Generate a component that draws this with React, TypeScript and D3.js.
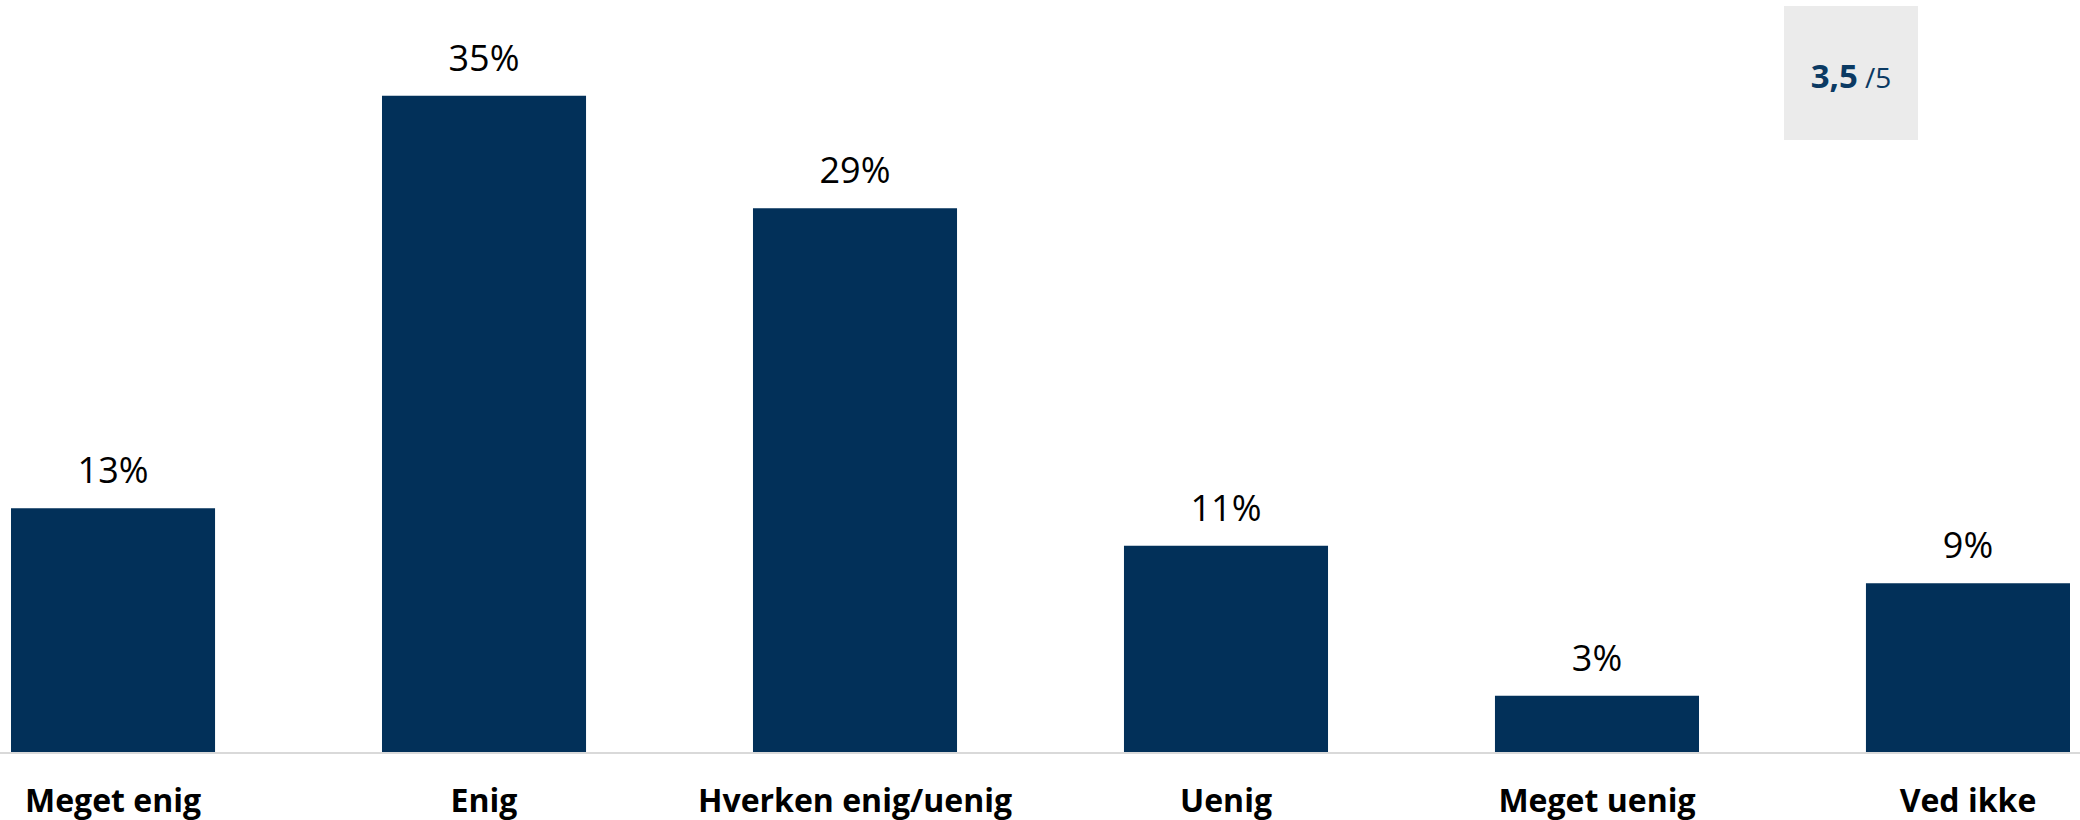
import { useEffect, useRef } from 'react';
import * as d3 from 'd3';

const categories = ['Meget enig', 'Enig', 'Hverken enig/uenig', 'Uenig', 'Meget uenig', 'Ved ikke'];
const values = [13, 35, 29, 11, 3, 9];
const scoreValue = '3,5';
const scoreMax = '/5';

const WIDTH = 2080;
const HEIGHT = 820;
const BAR_COLOR = '#023059';
const FONT = '"Open Sans", "Noto Sans", sans-serif';

export default function App() {
	const svgRef = useRef<SVGSVGElement>(null);

	useEffect(() => {
		if (!svgRef.current) return;
		document.body.style.margin = '0';

		const svg = d3.select(svgRef.current);
		svg.selectAll('*').remove();
		svg.attr('width', WIDTH).attr('height', HEIGHT);

		const xScale = d3.scaleBand<string>().domain(categories).range([11, 2070]).paddingInner(0.45).paddingOuter(0);

		const yScale = d3.scaleLinear().domain([0, 40]).range([752, 2]);

		// Bars
		svg
			.selectAll('.bar')
			.data(values)
			.enter()
			.append('rect')
			.attr('x', (_, i) => xScale(categories[i])!)
			.attr('y', (d) => yScale(d))
			.attr('width', xScale.bandwidth())
			.attr('height', (d) => yScale(0) - yScale(d))
			.attr('fill', BAR_COLOR);

		// Baseline
		svg
			.append('line')
			.attr('x1', 0)
			.attr('x2', WIDTH)
			.attr('y1', yScale(0) + 1)
			.attr('y2', yScale(0) + 1)
			.attr('stroke', '#d9d9d9')
			.attr('stroke-width', 2);

		// Value labels
		svg
			.selectAll('.value')
			.data(values)
			.enter()
			.append('text')
			.attr('x', (_, i) => xScale(categories[i])! + xScale.bandwidth() / 2)
			.attr('y', (d) => yScale(d) - 25)
			.attr('text-anchor', 'middle')
			.style('font-family', FONT)
			.style('font-size', '36px')
			.style('fill', '#000')
			.text((d) => `${d}%`);

		// Category labels
		svg
			.selectAll('.cat')
			.data(categories)
			.enter()
			.append('text')
			.attr('x', (d) => xScale(d)! + xScale.bandwidth() / 2)
			.attr('y', 812)
			.attr('text-anchor', 'middle')
			.style('font-family', FONT)
			.style('font-size', '32px')
			.style('font-weight', 700)
			.style('fill', '#000')
			.text((d) => d);

		// Score box
		const box = svg.append('g').attr('transform', 'translate(1784,6)');
		box.append('rect').attr('width', 134).attr('height', 134).attr('fill', '#ebebeb');
		const t = box
			.append('text')
			.attr('x', 67)
			.attr('y', 82)
			.attr('text-anchor', 'middle')
			.style('font-family', FONT)
			.style('fill', '#0b3a63');
		t.append('tspan').style('font-size', '33px').style('font-weight', 700).text(scoreValue);
		t.append('tspan').style('font-size', '28px').text(' ' + scoreMax);
	}, []);

	return (
		<div style={{ position: 'absolute', left: 0, top: 0 }}>
			<svg ref={svgRef} style={{ display: 'block' }}></svg>
		</div>
	);
}
